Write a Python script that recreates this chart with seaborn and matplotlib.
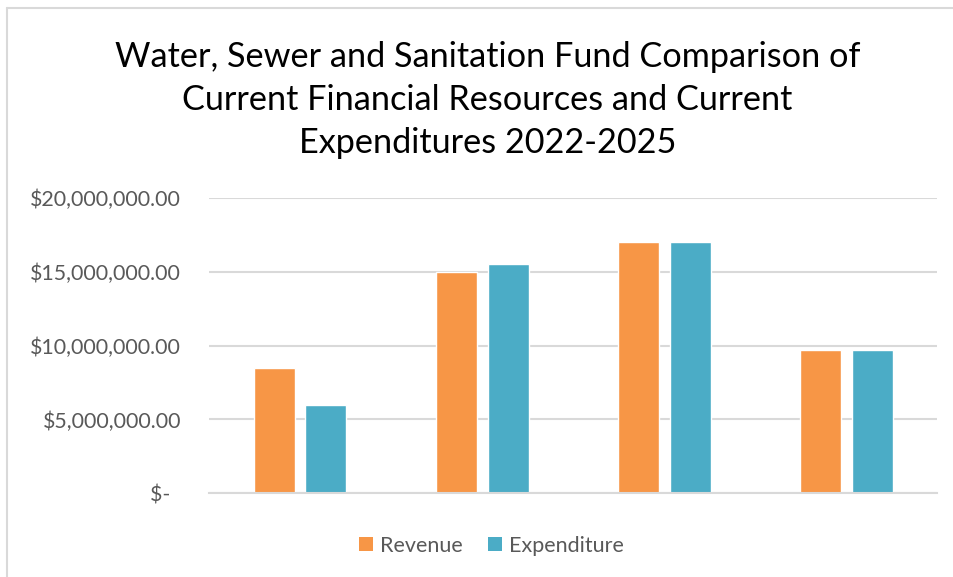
import matplotlib
matplotlib.use("Agg")
import matplotlib.pyplot as plt
from matplotlib.lines import Line2D
from matplotlib.patches import Patch
from matplotlib.ticker import FuncFormatter
import pandas as pd
import seaborn as sns

# Fund figures by fiscal year
years = ["2022", "2023", "2024", "2025"]
revenue = [8_500_000, 15_000_000, 17_000_000, 9_700_000]
expenditure = [6_000_000, 15_500_000, 17_000_000, 9_700_000]
series_names = ["Revenue", "Expenditure"]
y_ticks = [0, 5_000_000, 10_000_000, 15_000_000, 20_000_000]

df = pd.DataFrame({
    "Year": years * 2,
    "Series": [series_names[0]] * len(years) + [series_names[1]] * len(years),
    "Amount": revenue + expenditure,
})

sns.set_theme(style="white")
plt.rcParams["font.family"] = ["Lato", "DejaVu Sans"]

ORANGE = "#F79646"
TEAL = "#4BACC6"
GRID = "#D9D9D9"
TEXT = "#595959"

fig = plt.figure(figsize=(9.54, 5.77), dpi=100)
ax = fig.add_axes([0.219, 0.145, 0.7637, 0.512])

sns.barplot(data=df, x="Year", y="Amount", hue="Series",
            palette=[ORANGE, TEAL], width=0.57, gap=0.21,
            ax=ax, legend=False, saturation=1)

ax.set_xlim(-0.5, len(years) - 0.5)
ax.set_ylim(0, 20_000_000)
ax.set_yticks(y_ticks)


def money(v, _):
    if v == 0:
        return "$-  "
    return f"${v:,.2f}"


ax.yaxis.set_major_formatter(FuncFormatter(money))
ax.set_xticks([])
ax.set_xlabel("")
ax.set_ylabel("")
ax.tick_params(axis="y", length=0, pad=20, labelsize=15.4, labelcolor=TEXT)
ax.grid(axis="y", color=GRID, linewidth=1.5)
ax.set_axisbelow(True)
for side in ["top", "right", "left"]:
    ax.spines[side].set_visible(False)
ax.spines["bottom"].set_color(GRID)
ax.spines["bottom"].set_linewidth(1.5)

fig.text(0.511, 0.826,
         "Water, Sewer and Sanitation Fund Comparison of\n"
         "Current Financial Resources and Current\n"
         "Expenditures 2022-2025",
         ha="center", va="center", fontsize=24.7, color="#000000",
         linespacing=1.42)

handles = [Patch(facecolor=ORANGE, edgecolor="none"),
           Patch(facecolor=TEAL, edgecolor="none")]
fig.legend(handles, series_names, loc="center", bbox_to_anchor=(0.515, 0.054),
           ncol=2, frameon=False, fontsize=15.5, labelcolor=TEXT,
           handlelength=0.65, handleheight=0.65, handletextpad=0.3,
           columnspacing=1.2)

# Chart area border along the top and left edges
fig.add_artist(Line2D([7 / 954, 1.0], [1 - 8 / 577, 1 - 8 / 577],
                      transform=fig.transFigure, color=GRID, linewidth=1.5))
fig.add_artist(Line2D([7 / 954, 7 / 954], [0.0, 1 - 8 / 577],
                      transform=fig.transFigure, color=GRID, linewidth=1.5))

fig.savefig("out.png", dpi=100, facecolor="white")
